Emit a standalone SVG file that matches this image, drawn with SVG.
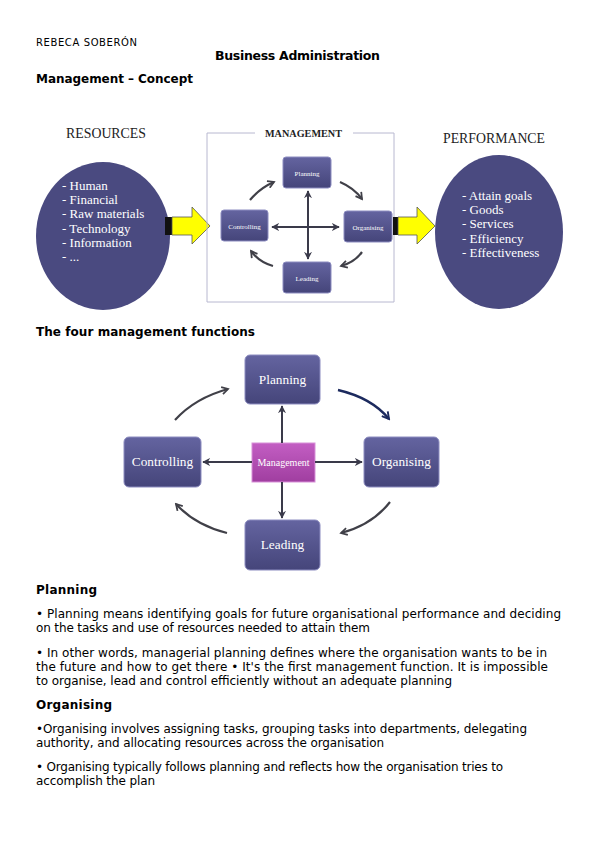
<svg xmlns="http://www.w3.org/2000/svg" width="599" height="848" viewBox="0 0 599 848">
<defs>
<style>
.t{font-family:"DejaVu Sans",sans-serif;fill:#000;font-size:12px}
.b{font-family:"DejaVu Sans",sans-serif;font-weight:bold;fill:#000;font-size:12px}
.s{font-family:"Liberation Serif",serif}
.w{font-family:"Liberation Serif",serif;fill:#fff}
.box{fill:url(#gb);stroke:#8c8cc0;stroke-width:1}
.ln{fill:none;stroke:#3a3a4a;stroke-width:2}
.cv{fill:none;stroke:#404048;stroke-width:2.2}
.cvn{fill:none;stroke:#1c2a5e;stroke-width:2.4}
</style>
<linearGradient id="gb" x1="0" y1="0" x2="0" y2="1">
<stop offset="0" stop-color="#6464a0"/>
<stop offset="1" stop-color="#45457a"/>
</linearGradient>
<linearGradient id="gm" x1="0" y1="0" x2="0" y2="1">
<stop offset="0" stop-color="#c35ec3"/>
<stop offset="1" stop-color="#a03ea0"/>
</linearGradient>
<marker id="ah" viewBox="0 0 10 10" refX="9" refY="5" markerWidth="4" markerHeight="4" orient="auto-start-reverse" markerUnits="strokeWidth">
<path d="M0,0 L10,5 L0,10 L3,5 Z" fill="#3a3a4a"/>
</marker>
<marker id="av" viewBox="0 0 10 10" refX="8" refY="5" markerWidth="4" markerHeight="4" orient="auto" markerUnits="strokeWidth">
<path d="M1,1 L8,5 L1,9" fill="none" stroke="#404048" stroke-width="2"/>
</marker>
<marker id="avn" viewBox="0 0 10 10" refX="8" refY="5" markerWidth="4" markerHeight="4" orient="auto" markerUnits="strokeWidth">
<path d="M1,1 L8,5 L1,9" fill="none" stroke="#1c2a5e" stroke-width="2"/>
</marker>
</defs>
<rect width="599" height="848" fill="#fff"/>

<!-- header -->
<text class="t" x="36" y="46" style="font-size:10px" textLength="101" lengthAdjust="spacing">REBECA SOBERÓN</text>
<text class="b" x="215" y="60" style="font-size:12.5px" textLength="165" lengthAdjust="spacing">Business Administration</text>
<text class="b" x="36" y="83" textLength="157" lengthAdjust="spacing">Management – Concept</text>

<!-- top diagram -->
<g id="resources">
<text class="s" x="66" y="138" font-size="13.8" fill="#222" textLength="80" lengthAdjust="spacingAndGlyphs">RESOURCES</text>
<ellipse cx="103" cy="236" rx="67" ry="74" fill="#4a4a80"/>
<text class="w" x="62" y="190" font-size="13">- Human</text>
<text class="w" x="62" y="204" font-size="13">- Financial</text>
<text class="w" x="62" y="218" font-size="13">- Raw materials</text>
<text class="w" x="62" y="233" font-size="13">- Technology</text>
<text class="w" x="62" y="247" font-size="13">- Information</text>
<text class="w" x="62" y="261" font-size="13">- ...</text>
</g>
<g id="arrowIn">
<rect x="165" y="217" width="7" height="18" fill="#111"/>
<path d="M172,217 H192 V207 L210,226 L192,244 V235 H172 Z" fill="#ffff00" stroke="#555" stroke-width="0.8"/>
</g>
<g id="management">
<path d="M255,133 H207 V302 H394 V133 H353" fill="none" stroke="#b8b8d0" stroke-width="1"/>
<text class="s" x="265" y="137" font-size="10" font-weight="bold" fill="#222" textLength="77" lengthAdjust="spacingAndGlyphs">MANAGEMENT</text>
</g>
<g id="planning1"><rect x="283" y="157" width="48" height="31" rx="3" class="box"/><text class="w" x="307" y="176" font-size="7" text-anchor="middle">Planning</text></g>
<g id="controlling1"><rect x="221" y="210" width="47" height="31" rx="3" class="box"/><text class="w" x="244.5" y="229" font-size="7" text-anchor="middle">Controlling</text></g>
<g id="organising1"><rect x="344" y="211" width="48" height="31" rx="3" class="box"/><text class="w" x="368" y="230" font-size="7" text-anchor="middle">Organising</text></g>
<g id="leading1"><rect x="283" y="262" width="48" height="31" rx="3" class="box"/><text class="w" x="307" y="281" font-size="7" text-anchor="middle">Leading</text></g>
<g id="arrowOut">
<rect x="393" y="217" width="5" height="18" fill="#111"/>
<path d="M398,217 H417 V207 L435,226 L417,244 V235 H398 Z" fill="#ffff00" stroke="#555" stroke-width="0.8"/>
</g>
<g id="performance">
<text class="s" x="443" y="143" font-size="13.8" fill="#222" textLength="102" lengthAdjust="spacingAndGlyphs">PERFORMANCE</text>
<ellipse cx="499" cy="232" rx="64" ry="77" fill="#4a4a80"/>
<text class="w" x="462" y="200" font-size="13">- Attain goals</text>
<text class="w" x="462" y="214" font-size="13">- Goods</text>
<text class="w" x="462" y="228" font-size="13">- Services</text>
<text class="w" x="462" y="243" font-size="13">- Efficiency</text>
<text class="w" x="462" y="257" font-size="13">- Effectiveness</text>
</g>

<text class="b" x="36" y="336" textLength="219" lengthAdjust="spacing">The four management functions</text>

<!-- second diagram nodes -->
<g id="planning2"><rect x="245" y="355" width="75" height="49" rx="5" class="box"/><text class="w" x="282.5" y="384" font-size="13.3" text-anchor="middle">Planning</text></g>
<g id="controlling2"><rect x="124" y="437" width="77" height="50" rx="5" class="box"/><text class="w" x="162.5" y="466" font-size="13.3" text-anchor="middle">Controlling</text></g>
<g id="organising2"><rect x="364" y="437" width="75" height="50" rx="5" class="box"/><text class="w" x="401.5" y="466" font-size="13.3" text-anchor="middle">Organising</text></g>
<g id="leading2"><rect x="245" y="520" width="75" height="50" rx="5" class="box"/><text class="w" x="282.5" y="549" font-size="13.3" text-anchor="middle">Leading</text></g>
<g id="management2"><rect x="252" y="443" width="63" height="39" fill="url(#gm)" stroke="#d890d8" stroke-width="1"/><text class="w" x="283.5" y="466" font-size="10" text-anchor="middle">Management</text></g>

<!-- connectors -->
<g id="connectors">
<line x1="272" y1="227" x2="339" y2="227" class="ln" stroke-width="1.5" marker-start="url(#ah)" marker-end="url(#ah)"/>
<line x1="308" y1="191" x2="308" y2="259" class="ln" stroke-width="1.5" marker-start="url(#ah)" marker-end="url(#ah)"/>
<path d="M250,200 Q260,188 274,182" class="cv" stroke-width="1.5" marker-end="url(#av)"/>
<path d="M340,182 Q354,188 362,199" class="cv" stroke-width="1.5" marker-end="url(#av)"/>
<path d="M362,252 Q355,262 341,266" class="cv" stroke-width="1.5" marker-end="url(#av)"/>
<path d="M273,266 Q259,262 251,251" class="cv" stroke-width="1.5" marker-end="url(#av)"/>

<line x1="282" y1="443" x2="282" y2="406" class="ln" marker-end="url(#ah)"/>
<line x1="282" y1="482" x2="282" y2="518" class="ln" marker-end="url(#ah)"/>
<line x1="252" y1="462" x2="203" y2="462" class="ln" marker-end="url(#ah)"/>
<line x1="315" y1="462" x2="362" y2="462" class="ln" marker-end="url(#ah)"/>
<path d="M175,420 Q195,398 228,389" class="cv" marker-end="url(#av)"/>
<path d="M338,390 Q372,398 389,419" class="cvn" marker-end="url(#avn)"/>
<path d="M390,502 Q372,525 341,533" class="cv" marker-end="url(#av)"/>
<path d="M227,533 Q195,525 176,504" class="cv" marker-end="url(#av)"/>
</g>

<!-- body text -->
<text class="b" x="36" y="594" textLength="61" lengthAdjust="spacing">Planning</text>
<text class="t" x="36" y="618" textLength="525" lengthAdjust="spacing">• Planning means identifying goals for future organisational performance and deciding</text>
<text class="t" x="36" y="632" textLength="334" lengthAdjust="spacing">on the tasks and use of resources needed to attain them</text>
<text class="t" x="36" y="657" textLength="511" lengthAdjust="spacing">• In other words, managerial planning defines where the organisation wants to be in</text>
<text class="t" x="36" y="671" textLength="512" lengthAdjust="spacing">the future and how to get there • It's the first management function. It is impossible</text>
<text class="t" x="36" y="685" textLength="416" lengthAdjust="spacing">to organise, lead and control efficiently without an adequate planning</text>
<text class="b" x="36" y="709" textLength="76" lengthAdjust="spacing">Organising</text>
<text class="t" x="36" y="733" textLength="491" lengthAdjust="spacing">•Organising involves assigning tasks, grouping tasks into departments, delegating</text>
<text class="t" x="36" y="747" textLength="348" lengthAdjust="spacing">authority, and allocating resources across the organisation</text>
<text class="t" x="36" y="771" textLength="467" lengthAdjust="spacing">• Organising typically follows planning and reflects how the organisation tries to</text>
<text class="t" x="36" y="785" textLength="119" lengthAdjust="spacing">accomplish the plan</text>
</svg>
